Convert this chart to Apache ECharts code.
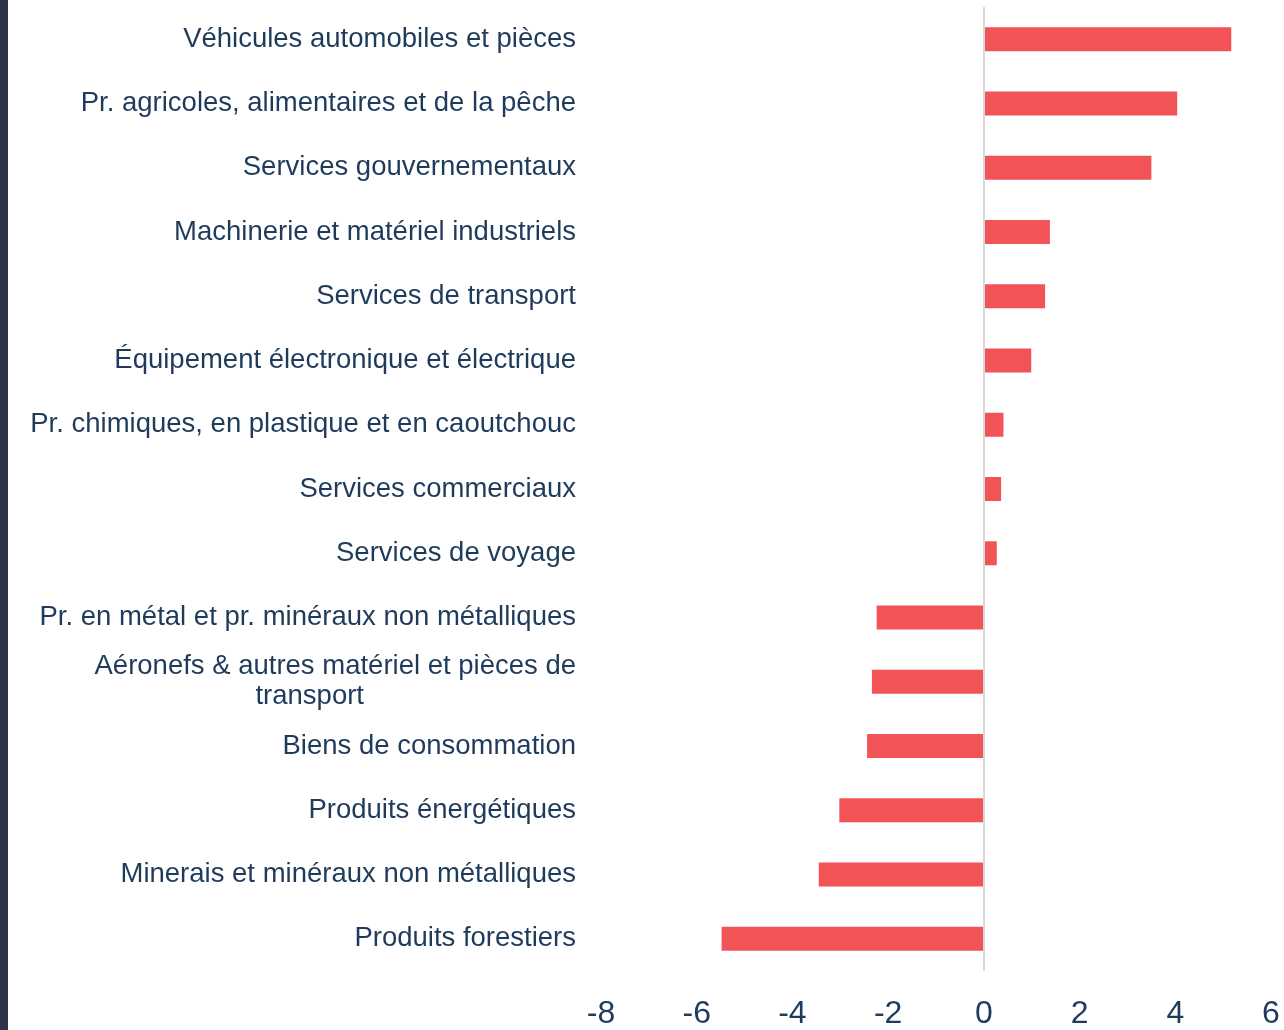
<!DOCTYPE html>
<html>
<head>
<meta charset="utf-8">
<script src="https://cdn.jsdelivr.net/npm/echarts@6/dist/echarts.min.js"></script>
<style>
html,body{margin:0;padding:0;background:#fff;}
#chart{width:1284px;height:1030px;}
</style>
</head>
<body>
<div id="chart"></div>
<script>
const categories = [
  'Véhicules automobiles et pièces',
  'Pr. agricoles, alimentaires et de la pêche',
  'Services gouvernementaux',
  'Machinerie et matériel industriels',
  'Services de transport',
  'Équipement électronique et électrique',
  'Pr. chimiques, en plastique et en caoutchouc',
  'Services commerciaux',
  'Services de voyage',
  'Pr. en métal et pr. minéraux non métalliques',
  'Aéronefs & autres matériel et pièces de transport',
  'Biens de consommation',
  'Produits énergétiques',
  'Minerais et minéraux non métalliques',
  'Produits forestiers'
];
const values = [5.17, 4.04, 3.50, 1.38, 1.28, 0.99, 0.41, 0.36, 0.27, -2.24, -2.34, -2.44, -3.02, -3.45, -5.48];
const xMin = -8, xMax = 6, xStep = 2;

const navy = '#1f3b5c';
const font = "'Liberation Sans', Arial, sans-serif";
const chart = echarts.init(document.getElementById('chart'), null, {renderer: 'canvas'});
chart.setOption({
  backgroundColor: '#ffffff',
  animation: false,
  graphic: [{
    type: 'rect', left: 0, top: 0, z: 100,
    shape: {x: 0, y: 0, width: 8, height: 1030},
    style: {fill: '#2e3447'}
  }],
  grid: {left: 601, right: 13, top: 7, bottom: 53, containLabel: false},
  xAxis: {
    type: 'value', min: xMin, max: xMax, interval: xStep,
    axisLine: {show: false}, axisTick: {show: false}, splitLine: {show: false},
    axisLabel: {fontSize: 32, color: navy, fontFamily: font, margin: 27}
  },
  yAxis: {
    type: 'category', inverse: true, data: categories,
    axisLine: {show: false, onZero: false}, axisTick: {show: false},
    axisLabel: {
      fontSize: 27.5, color: navy, fontFamily: font, margin: 25, align: 'right',
      formatter: function (v) {
        if (v.indexOf('Aéronefs') === 0) {
          return '{a|Aéronefs & autres matériel et pièces de}\n{b|transport}';
        }
        return v;
      },
      rich: {
        a: {fontSize: 27.5, color: navy, fontFamily: font, lineHeight: 30},
        b: {fontSize: 27.5, color: navy, fontFamily: font, lineHeight: 30, padding: [0, 212, 0, 0]}
      }
    }
  },
  series: [{
    type: 'bar', data: values, barWidth: 24,
    itemStyle: {color: '#f15356'},
    markLine: {
      silent: true, symbol: 'none', animation: false,
      label: {show: false},
      lineStyle: {color: '#d9d9d9', width: 2, type: 'solid'},
      data: [{xAxis: 0}]
    }
  }]
});
</script>
</body>
</html>
